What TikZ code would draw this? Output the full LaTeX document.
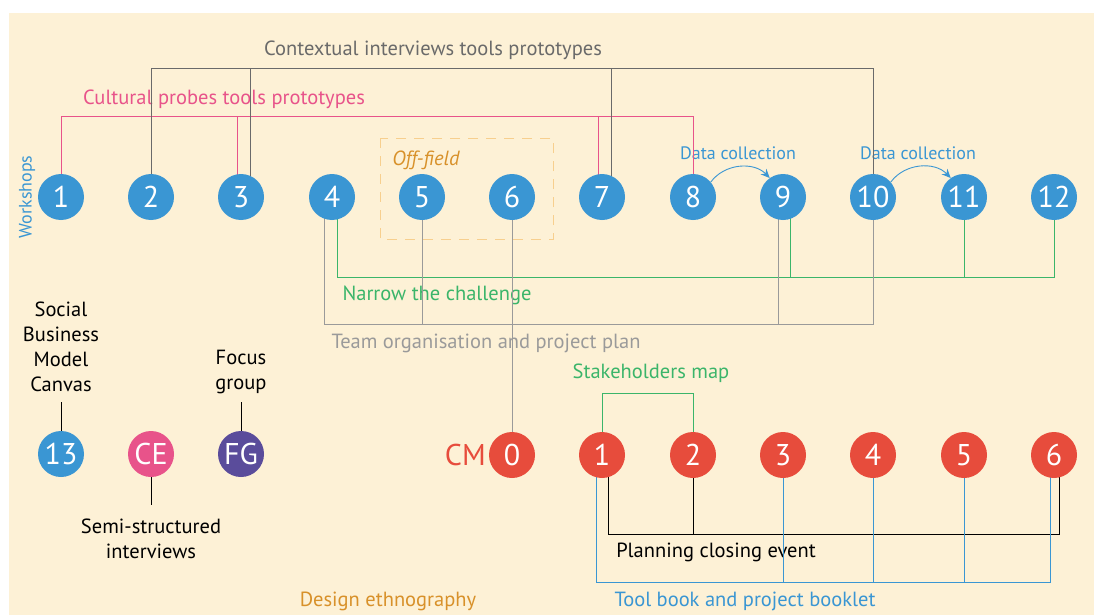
\documentclass[tikz,border=0pt]{standalone}
\usepackage{fontspec}
\setmainfont{PT Sans}
\usetikzlibrary{arrows.meta,calc}
\definecolor{cream}{HTML}{FDF1D6}
\definecolor{wsblue}{HTML}{3A96D3}
\definecolor{cmred}{HTML}{E74C3C}
\definecolor{cepink}{HTML}{E8538A}
\definecolor{fgpurple}{HTML}{5A4C9B}
\definecolor{lgreen}{HTML}{3BB56A}
\definecolor{ochre}{HTML}{D8912A}
\definecolor{dashbox}{HTML}{F7CF8E}
\definecolor{ctxgray}{HTML}{6A6A6A}
\definecolor{midgray}{HTML}{9A9A9A}
\pgfdeclarelayer{back}
\pgfdeclarelayer{lines}
\pgfsetlayers{back,lines,main}
\tikzset{
  x=1pt, y=-1pt,
  dot/.style={circle, minimum size=46pt, inner sep=0pt, text=white,
    font=\fontsize{30}{30}\selectfont},
  wsdot/.style={dot, fill=wsblue},
  cmdot/.style={dot, fill=cmred},
  lbl/.style={inner sep=0pt, font=\fontsize{20.5}{25}\selectfont, align=center},
  buslbl/.style={lbl, yshift=-2pt},
  smalllbl/.style={inner sep=0pt, font=\fontsize{18}{20}\selectfont},
  pinkln/.style={draw=cepink, line width=0.9pt},
  ctxln/.style={draw=ctxgray, line width=0.9pt},
  teamln/.style={draw=midgray, line width=0.9pt},
  greenln/.style={draw=lgreen, line width=0.9pt},
  blackln/.style={draw=black, line width=0.9pt},
  blueln/.style={draw=wsblue, line width=0.9pt},
  dataarrow/.style={draw=wsblue, line width=0.9pt, -{Stealth[length=9pt,width=8pt]}},
}
\begin{document}
\begin{tikzpicture}
\useasboundingbox (0,0) rectangle (1094,615);

% workshop circles
\foreach \i/\x in {1/61,2/151,3/241,4/332,5/422,6/512,7/602,8/693,9/783,10/873,11/964,12/1054}
  \node[wsdot] (w\i) at (\x,197) {\i};
% closing meeting circles
\foreach \i/\x in {0/512,1/602,2/693,3/783,4/873,5/964,6/1054}
  \node[cmdot] (c\i) at (\x,455) {\i};
% other methods
\node[wsdot] (w13) at (61,454) {13};
\node[dot, fill=cepink] (ce) at (151,454) {CE};
\node[dot, fill=fgpurple] (fg) at (241,454) {FG};
\node[inner sep=0pt, text=cmred, font=\fontsize{30}{30}\selectfont, anchor=east] (cm) at (486,455) {CM};

% bus levels
\coordinate (ctxbus) at (0,68);
\coordinate (pinkbus) at (0,116);
\coordinate (greenbus) at (0,277);
\coordinate (teambus) at (0,324);
\coordinate (stakebus) at (0,393);
\coordinate (planbus) at (0,534);
\coordinate (toolbus) at (0,582);

% offset attachment points
\coordinate (w3l) at ([xshift=-4pt]w3.center);
\coordinate (w3r) at ([xshift=9pt]w3.center);
\coordinate (w7l) at ([xshift=-4pt]w7.center);
\coordinate (w7r) at ([xshift=9pt]w7.center);
\coordinate (w4l) at ([xshift=-8pt]w4.center);
\coordinate (w4r) at ([xshift=5pt]w4.center);
\coordinate (w9l) at ([xshift=-5pt]w9.center);
\coordinate (w9r) at ([xshift=7pt]w9.center);
\coordinate (c1l) at ([xshift=-6pt]c1.center);
\coordinate (c1r) at ([xshift=6pt]c1.center);
\coordinate (c6l) at ([xshift=-4pt]c6.center);
\coordinate (c6r) at ([xshift=5pt]c6.center);
\coordinate (sbmctop) at (61,402);
\coordinate (fgtop) at (241,402);
\coordinate (cebot) at (151,505);

\begin{pgfonlayer}{back}
  \fill[white] (0,0) rectangle (1094,615);
  \fill[cream] (9,13) rectangle (1094,615);
  \draw[dashbox, line width=0.9pt, dash pattern=on 10pt off 8pt] (380,138) rectangle (553,239);
  % labels
  \node[buslbl, text=ctxgray] (ctxlbl) at (433,48) {Contextual interviews tools prototypes};
  \node[buslbl, text=cepink] (pinklbl) at (224,97) {Cultural probes tools prototypes};
  \node[buslbl, text=ochre, font=\fontsize{20.5}{22}\itshape] (offlbl) at (426,158) {Off-field};
  \node[smalllbl, text=wsblue] (dc1) at (738,153) {Data collection};
  \node[smalllbl, text=wsblue] (dc2) at (918,153) {Data collection};
  \node[smalllbl, text=wsblue, rotate=90] (wslbl) at (27,197) {Workshops};
  \node[buslbl, text=lgreen] (greenlbl) at (437,293) {Narrow the challenge};
  \node[buslbl, text=midgray] (teamlbl) at (486,341) {Team organisation and project plan};
  \node[buslbl, text=lgreen] (stakelbl) at (651,371) {Stakeholders map};
  \node[buslbl, text=black] (planlbl) at (716,550) {Planning closing event};
  \node[buslbl, text=wsblue] (toollbl) at (745,599) {Tool book and project booklet};
  \node[buslbl, text=ochre] (ethlbl) at (388,599) {Design ethnography};
  \node[lbl, text=black, anchor=south] (sbmclbl) at (61,392) {Social\\Business\\Model\\Canvas};
  \node[lbl, text=black, anchor=south] (fglbl) at (241,394) {Focus\\group};
  \node[lbl, text=black, anchor=north] (celbl) at (151,519) {Semi-structured\\interviews};
\end{pgfonlayer}

\begin{pgfonlayer}{lines}
  % cultural probes tools prototypes
  \draw[pinkln] (w1.center) -- (w1 |- pinkbus) -- (w8 |- pinkbus) -- (w8.center);
  \draw[pinkln] (w3l) -- (w3l |- pinkbus);
  \draw[pinkln] (w7l) -- (w7l |- pinkbus);
  % contextual interviews tools prototypes
  \draw[ctxln] (w2.center) -- (w2 |- ctxbus) -- (w10 |- ctxbus) -- (w10.center);
  \draw[ctxln] (w3r) -- (w3r |- ctxbus);
  \draw[ctxln] (w7r) -- (w7r |- ctxbus);
  % narrow the challenge
  \draw[greenln] (w4r) -- (w4r |- greenbus) -- (w12 |- greenbus) -- (w12.center);
  \draw[greenln] (w9r) -- (w9r |- greenbus);
  \draw[greenln] (w11.center) -- (w11 |- greenbus);
  % team organisation and project plan
  \draw[teamln] (w4l) -- (w4l |- teambus) -- (w10 |- teambus) -- (w10.center);
  \draw[teamln] (w5.center) -- (w5 |- teambus);
  \draw[teamln] (w9l) -- (w9l |- teambus);
  \draw[teamln] (w6.center) -- (c0.center);
  % stakeholders map
  \draw[greenln] (c1.center) -- (c1 |- stakebus) -- (c2 |- stakebus) -- (c2.center);
  % planning closing event
  \draw[blackln] (c1r) -- (c1r |- planbus) -- (c6r |- planbus) -- (c6r);
  \draw[blackln] (c2.center) -- (c2 |- planbus);
  % tool book and project booklet
  \draw[blueln] (c1l) -- (c1l |- toolbus) -- (c6l |- toolbus) -- (c6l);
  \foreach \k in {3,4,5} \draw[blueln] (c\k.center) -- (c\k |- toolbus);
  % method annotations
  \draw[blackln] (w13.center) -- (sbmctop);
  \draw[blackln] (fg.center) -- (fgtop);
  \draw[blackln] (ce.center) -- (cebot);
\end{pgfonlayer}

% data collection arrows
\draw[dataarrow] (w8.40) to[bend left=50] (w9.125);
\draw[dataarrow] (w10.40) to[bend left=50] (w11.125);
\end{tikzpicture}
\end{document}
